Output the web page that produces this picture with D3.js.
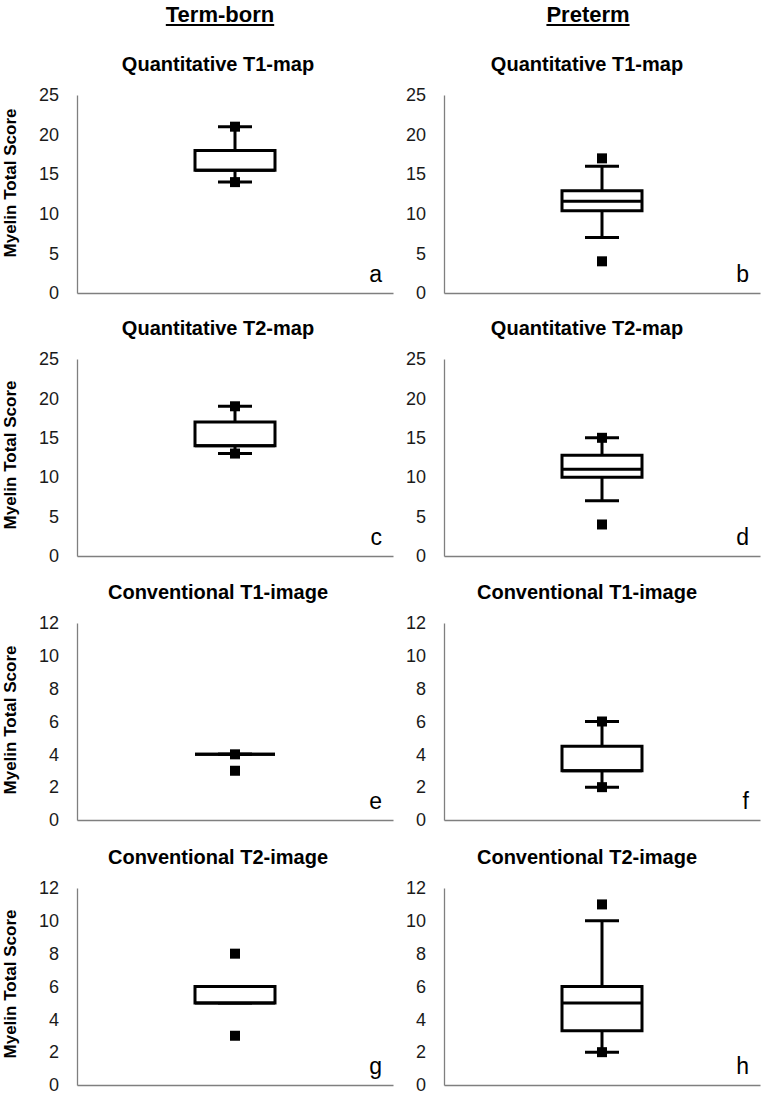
<!DOCTYPE html>
<html>
<head>
<meta charset="utf-8">
<script src="https://cdn.jsdelivr.net/npm/d3@7"></script>
<style>
  html, body { margin: 0; padding: 0; background: #fff; }
  svg { display: block; font-family: "Liberation Sans", Arial, sans-serif; }
</style>
</head>
<body>
<svg id="chart" width="762" height="1095"></svg>
<script>
// ---- data ----
const groups = ["Term-born", "Preterm"];
const panelTitles = ["Quantitative T1-map", "Quantitative T2-map", "Conventional T1-image", "Conventional T2-image"];
const panelLetters = ["a", "b", "c", "d", "e", "f", "g", "h"];
const yAxisLabel = "Myelin Total Score";
const yMaxByRow = [25, 25, 12, 12];
const yTicksByRow = [[0, 5, 10, 15, 20, 25], [0, 5, 10, 15, 20, 25], [0, 2, 4, 6, 8, 10, 12], [0, 2, 4, 6, 8, 10, 12]];
// panels in order a..h (row-major: left=Term-born, right=Preterm)
const whiskerLow  = [14, 7, 13, 7, 4, 2, 5, 2];
const q1          = [15.5, 10.4, 14, 10, 4, 3, 5, 3.3];
const median      = [15.5, 11.6, 14, 11, 4, 3, 5, 5];
const q3          = [18, 12.9, 17, 12.8, 4, 4.5, 6, 6];
const whiskerHigh = [21, 16, 19, 15, 4, 6, 6, 10];
const outliers    = [[21, 14], [17, 4], [19, 13], [15, 4], [4, 3], [6, 2], [8, 3], [11, 2]];

// ---- layout ----
const svg = d3.select("#chart");
const axisXs = [77, 444];
const plotW = 316;
const axisTops = [95, 359, 623, 888];
const plotHs = [198, 197, 197, 197];
const titleCenters = [218, 587];
const headerCenters = [220, 588];
const yLabelCenters = [183, 455, 720, 984];
const boxW = 80, capW = 34, sq = 10;
const axisColor = "#7f7f7f";

// headers
groups.forEach((g, i) => {
  const t = svg.append("text")
    .attr("x", headerCenters[i]).attr("y", 22)
    .attr("text-anchor", "middle")
    .attr("font-size", 22).attr("font-weight", "bold")
    .attr("fill", "#000").text(g);
  const w = t.node().getComputedTextLength();
  svg.append("line")
    .attr("x1", headerCenters[i] - w / 2).attr("x2", headerCenters[i] + w / 2)
    .attr("y1", 25).attr("y2", 25)
    .attr("stroke", "#000").attr("stroke-width", 2);
});

for (let r = 0; r < 4; r++) {
  const y = d3.scaleLinear().domain([0, yMaxByRow[r]]).range([axisTops[r] + plotHs[r], axisTops[r]]);
  for (let c = 0; c < 2; c++) {
    const k = r * 2 + c;
    const x0 = axisXs[c];
    const x = d3.scaleBand().domain([groups[c]]).range([x0, x0 + plotW]);
    const cx = x(groups[c]) + x.bandwidth() / 2;
    const g = svg.append("g");

    // title
    g.append("text")
      .attr("x", titleCenters[c]).attr("y", axisTops[r] - 24)
      .attr("text-anchor", "middle")
      .attr("font-size", 20).attr("font-weight", "bold")
      .attr("fill", "#000").text(panelTitles[r]);

    // y axis
    const yAxis = d3.axisLeft(y).tickValues(yTicksByRow[r]).tickSize(0).tickPadding(18).tickFormat(d3.format("d"));
    const ga = g.append("g").attr("transform", `translate(${x0},0)`).call(yAxis);
    ga.select(".domain").attr("stroke", axisColor).attr("stroke-width", 1.3);
    ga.selectAll("text").attr("font-size", 18).attr("fill", "#1a1a1a")
      .attr("font-family", "'Liberation Sans', Arial, sans-serif");

    // x axis baseline
    const xAxis = d3.axisBottom(x).tickSize(0).tickFormat("");
    const gx = g.append("g").attr("transform", `translate(0,${y(0)})`).call(xAxis);
    gx.select(".domain").attr("stroke", axisColor).attr("stroke-width", 1.3);

    // y label
    if (c === 0) {
      g.append("text")
        .attr("transform", `translate(16,${yLabelCenters[r]}) rotate(-90)`)
        .attr("text-anchor", "middle")
        .attr("font-size", 17).attr("font-weight", "bold")
        .attr("fill", "#000").text(yAxisLabel);
    }

    // whiskers
    const vline = (ya, yb) => {
      if (Math.abs(ya - yb) < 0.01) return;
      g.append("line").attr("x1", cx).attr("x2", cx).attr("y1", y(ya)).attr("y2", y(yb))
        .attr("stroke", "#000").attr("stroke-width", 3);
    };
    vline(whiskerHigh[k], q3[k]);
    vline(q1[k], whiskerLow[k]);
    [whiskerHigh[k], whiskerLow[k]].forEach(v => {
      g.append("line").attr("x1", cx - capW / 2).attr("x2", cx + capW / 2)
        .attr("y1", y(v)).attr("y2", y(v))
        .attr("stroke", "#000").attr("stroke-width", 3);
    });

    // box
    const bx0 = cx - boxW / 2, bx1 = cx + boxW / 2;
    g.append("path")
      .attr("d", `M${bx0},${y(q3[k])}H${bx1}V${y(q1[k])}H${bx0}Z`)
      .attr("fill", "#fff").attr("stroke", "#000").attr("stroke-width", 3)
      .attr("stroke-linejoin", "miter");
    g.append("line").attr("x1", bx0).attr("x2", bx1)
      .attr("y1", y(median[k])).attr("y2", y(median[k]))
      .attr("stroke", "#000").attr("stroke-width", 3);

    // outliers
    g.selectAll("rect.out").data(outliers[k]).enter().append("rect")
      .attr("class", "out")
      .attr("x", cx - sq / 2).attr("y", d => y(d) - sq / 2)
      .attr("width", sq).attr("height", sq).attr("fill", "#000");

    // panel letter
    g.append("text")
      .attr("x", x0 + plotW - 11).attr("y", y(0) - 11)
      .attr("text-anchor", "end")
      .attr("font-size", 23).attr("fill", "#000").text(panelLetters[k]);
  }
}
</script>
</body>
</html>
